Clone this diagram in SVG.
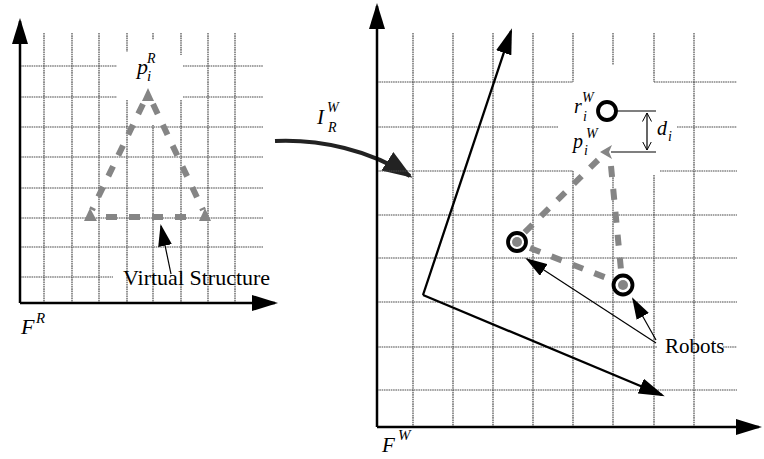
<svg xmlns="http://www.w3.org/2000/svg" width="764" height="459" viewBox="0 0 764 459">
<style>
.grid{fill:none;stroke:#4a4a4a;stroke-width:1.2;stroke-dasharray:1.6 0.7}
.axis{fill:none;stroke:#000;stroke-width:2.5}
.vec{fill:none;stroke:#000;stroke-width:2.3}
.thin{fill:none;stroke:#000;stroke-width:1.2}
.vs{fill:none;stroke:#858585;stroke-width:6;stroke-dasharray:11 12}
.vm{fill:#858585}
.robot{fill:none;stroke:#000;stroke-width:3.8}
.t{font-family:"Liberation Serif","Times New Roman",serif;fill:#000}
.m{font-family:"Liberation Serif","Times New Roman",serif;font-style:italic;fill:#000}
</style>
<defs>
<marker id="big" viewBox="0 0 26 16" refX="23" refY="8" markerWidth="26" markerHeight="16" markerUnits="userSpaceOnUse" orient="auto"><path d="M0,0 L26,8 L0,16 z" fill="#000"/></marker>
<marker id="small" viewBox="0 0 22 14" refX="20" refY="7" markerWidth="22" markerHeight="14" markerUnits="userSpaceOnUse" orient="auto"><path d="M0,0 L22,7 L0,14 z" fill="#000"/></marker>
<marker id="curve" viewBox="0 0 30 22" refX="27" refY="11" markerWidth="30" markerHeight="22" markerUnits="userSpaceOnUse" orient="auto"><path d="M0,0 L30,11 L0,22 z" fill="#222"/></marker>
<marker id="open" viewBox="0 0 9 10" refX="8.5" refY="5" markerWidth="9" markerHeight="10" markerUnits="userSpaceOnUse" orient="auto-start-reverse"><path d="M0,0.5 L8.5,5 L0,9.5" fill="none" stroke="#000" stroke-width="1"/></marker>
</defs>

<g id="left-frame">
<path class="grid" d="M44,33V303 M72,33V303 M99,33V303 M127,33V52 M127,100V303 M153,33V40 M153,125V303 M181,33V55 M181,100V303 M208,33V303 M235,33V303"/>
<path class="grid" d="M20,66H117 M183,66H263 M20,97H117 M183,97H263 M20,127H263 M20,157H263 M20,188H263 M20,218H263 M20,247H263 M20,277H113"/>
<path class="axis" d="M20,303V21" marker-end="url(#big)"/>
<path class="axis" d="M20,303H275" marker-end="url(#big)"/>
<text class="m" x="21" y="334" font-size="22">F</text>
<text class="m" x="36" y="323" font-size="15">R</text>
</g>

<g id="virtual-structure">
<path class="vs" d="M143,104 L92,210"/>
<path class="vs" d="M153,104 L203,210"/>
<path class="vs" stroke-dashoffset="-2" d="M104,217 H198"/>
<polygon class="vm" points="148,88 154,101 142,101"/>
<polygon class="vm" points="90,208 97,221 84,221"/>
<polygon class="vm" points="205,208 211,221 199,221"/>
<text class="m" x="137" y="74" font-size="22">p</text>
<text class="m" x="147" y="81" font-size="15">i</text>
<text class="m" x="147" y="63" font-size="14">R</text>
<text class="t" x="123" y="285" font-size="22">Virtual Structure</text>
<path class="thin" stroke-width="1.5" d="M171,274 L161,226" marker-end="url(#small)"/>
</g>

<g id="transform">
<path d="M275,141 C320,139 370,150 410,176" fill="none" stroke="#222" stroke-width="4" marker-end="url(#curve)"/>
<text class="m" x="317" y="124" font-size="21">I</text>
<text class="m" x="327" y="112" font-size="14">W</text>
<text class="m" x="328" y="132" font-size="14">R</text>
</g>

<g id="right-frame">
<path class="grid" d="M413,33V427 M453,33V427 M493,33V427 M533,33V427 M573,33V82 M573,171V427 M613,33V65 M613,175V427 M654,33V82 M654,175V427 M694,33V427"/>
<path class="grid" d="M377,82H573 M654,82H737 M377,127H558 M677,127H737 M377,171H573 M660,171H737 M377,215H737 M377,258H737 M377,302H737 M377,347H657 M723,347H737 M377,390H737"/>
<path class="axis" d="M377,427V6" marker-end="url(#big)"/>
<path class="axis" d="M377,427H759" marker-end="url(#big)"/>
<text class="m" x="382" y="452" font-size="21">F</text>
<text class="m" x="398" y="440" font-size="15">W</text>
</g>

<g id="robot-frame">
<path class="vec" d="M423,295 L511,31" marker-end="url(#big)"/>
<path class="vec" d="M423,295 L662,395" marker-end="url(#big)"/>
</g>

<g id="formation">
<path class="vs" stroke-width="5" stroke-dasharray="8 12" d="M598,160 L524,233"/>
<path class="vs" stroke-width="5" stroke-dasharray="8 12" d="M611,166 L621,270"/>
<path class="vs" stroke-width="5" stroke-dasharray="8 12" d="M530,248 L612,280"/>
<polygon class="vm" points="600,152 612,145 609,152 612,159"/>
<circle class="vm" cx="517" cy="242" r="5"/>
<circle class="vm" cx="623" cy="285" r="5"/>
</g>

<g id="robot-i">
<circle class="robot" cx="607" cy="111" r="9"/>
<text class="m" x="574" y="113" font-size="20">r</text>
<text class="m" x="582" y="102" font-size="14">W</text>
<text class="m" x="583" y="121" font-size="14">i</text>
<text class="m" x="573" y="148" font-size="20">p</text>
<text class="m" x="586" y="138" font-size="14">W</text>
<text class="m" x="584" y="155" font-size="14">i</text>
</g>

<g id="distance">
<path class="thin" stroke-width="1" d="M616,111 H656"/>
<path class="thin" stroke-width="2" d="M611,152 H656"/>
<path class="thin" d="M647,113 V150" marker-start="url(#open)" marker-end="url(#open)"/>
<text class="m" x="657" y="135" font-size="20">d</text>
<text class="m" x="668" y="141" font-size="14">i</text>
</g>

<g id="robots">
<circle class="robot" cx="517" cy="242" r="9"/>
<circle class="robot" cx="623" cy="285" r="9.5"/>
<text class="t" x="665" y="353" font-size="21">Robots</text>
</g>

<g id="connectors">
<path class="thin" d="M656,343 L527,259" marker-end="url(#small)"/>
<path class="thin" d="M656,340 L633,299" marker-end="url(#small)"/>
</g>
</svg>
